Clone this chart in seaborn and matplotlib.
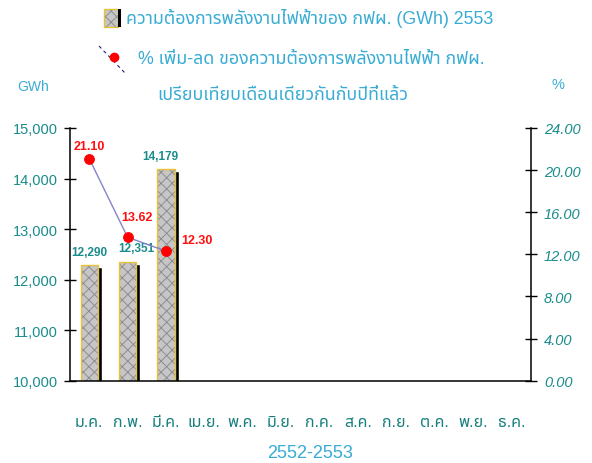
import matplotlib
matplotlib.use("Agg")
import numpy as np
import pandas as pd
import matplotlib.pyplot as plt
import seaborn as sns
from matplotlib.transforms import ScaledTranslation
from matplotlib.patches import Rectangle
from matplotlib.lines import Line2D
from matplotlib.ticker import FuncFormatter, FixedLocator

months = ["ม.ค.", "ก.พ.", "มี.ค.", "เม.ย.", "พ.ค.", "มิ.ย.", "ก.ค.", "ส.ค.", "ก.ย.", "ต.ค.", "พ.ย.", "ธ.ค."]
demand_gwh = [12290, 12351, 14179]
pct_change = [21.10, 13.62, 12.30]
title_bar = "ความต้องการพลังงานไฟฟ้าของ กฟผ. (GWh) 2553"
title_line1 = "% เพิ่ม-ลด ของความต้องการพลังงานไฟฟ้า กฟผ."
title_line2 = "เปรียบเทียบเดือนเดียวกันกับปีที่แล้ว"
xlabel = "2552-2553"

sns.set_theme(style="white")
plt.rcParams["font.family"] = ["Liberation Sans", "Noto Sans Thai"]
plt.rcParams["hatch.linewidth"] = 0.7

TEAL = "#1a8c8c"
BLUE = "#38acd4"
GOLD = "#e6c23c"
W, H = 592, 464

df = pd.DataFrame({"month": months[:len(demand_gwh)], "gwh": demand_gwh})
df_pct = pd.DataFrame({"pos": np.arange(len(pct_change)), "pct": pct_change})

fig = plt.figure(figsize=(W / 100, H / 100), dpi=100)
ax = fig.add_axes([70 / W, (H - 381.6) / H, 460.7 / W, 252.6 / H])

# shadow bars, shifted right/down a few pixels
sns.barplot(data=df, x="month", y="gwh", order=months, color="black",
            width=0.45, errorbar=None, ax=ax, saturation=1)
shift = ScaledTranslation(4 / 100, -2 / 100, fig.dpi_scale_trans)
for p in ax.patches:
    p.set_transform(ax.transData + shift)
# textured face
sns.barplot(data=df, x="month", y="gwh", order=months, color="#c6c6c6",
            width=0.45, errorbar=None, ax=ax, saturation=1,
            hatch="xxx", edgecolor="#8e8e8e", linewidth=0)
# gold outline
sns.barplot(data=df, x="month", y="gwh", order=months, color=GOLD, fill=False,
            width=0.45, errorbar=None, ax=ax, linewidth=1.0)

bar_offsets = [(0, 5), (6, 5.5), (-4, 5.5)]
for i, v in enumerate(demand_gwh):
    ax.annotate(f"{v:,}", (i, v), xytext=bar_offsets[i], textcoords="offset points",
                ha="center", va="bottom", color=TEAL, fontsize=8.5, fontweight="bold")

ax.set_xlim(-0.5, len(months) - 0.5)
ax.set_ylim(10000, 15000)
ax.set_yticks(np.arange(10000, 15001, 1000))
ax.yaxis.set_major_formatter(FuncFormatter(lambda v, p: f"{v:,.0f}"))
ax.xaxis.set_major_locator(FixedLocator(np.arange(-0.5, len(months), 1)))
ax.xaxis.set_minor_locator(FixedLocator(np.arange(len(months))))
ax.set_xticklabels([], minor=False)
ax.set_xticklabels(months, minor=True)
ax.tick_params(axis="x", which="major", direction="inout", length=9, width=1, color="black")
ax.tick_params(axis="x", which="minor", length=0, pad=24, labelsize=11.5, labelcolor="#17807f")
ax.tick_params(axis="y", direction="inout", length=9, width=1, color="black",
               labelsize=10.5, labelcolor=TEAL, pad=4, left=True)
ax.set_xlabel("")
ax.set_ylabel("")
for s in ["top", "right"]:
    ax.spines[s].set_visible(False)
for s in ["left", "bottom"]:
    ax.spines[s].set_color("black")
    ax.spines[s].set_linewidth(1.1)

ax2 = ax.twinx()
sns.lineplot(data=df_pct, x="pos", y="pct", ax=ax2, color="#8484cc", linewidth=1,
             marker="o", markersize=7, markerfacecolor="#ff0000", markeredgecolor="#ff0000")
pct_offsets = [(0, 5), (7, 10), (22, 4)]
for i, v in enumerate(pct_change):
    ax2.annotate(f"{v:.2f}", (i, v), xytext=pct_offsets[i], textcoords="offset points",
                 ha="center", va="bottom", color="#ff1010", fontsize=9, fontweight="bold")
ax2.set_ylim(0, 24)
ax2.set_yticks(np.arange(0, 24.1, 4))
ax2.yaxis.set_major_formatter(FuncFormatter(lambda v, p: f"{v:.2f}"))
ax2.tick_params(axis="y", direction="inout", length=9, width=1, color="black",
                labelsize=10.5, labelcolor=TEAL, pad=5, right=True)
for lab in ax2.get_yticklabels():
    lab.set_fontstyle("italic")
ax2.set_xlabel("")
ax2.set_ylabel("")
for s in ["top", "left", "bottom"]:
    ax2.spines[s].set_visible(False)
ax2.spines["right"].set_color("black")
ax2.spines["right"].set_linewidth(1.1)
ax2.set_xlim(-0.5, len(months) - 0.5)
ax2.grid(False)
ax.grid(False)

# axis titles
fig.text(33 / W, 1 - 87 / H, "GWh", color=BLUE, fontsize=10, ha="center", va="center")
fig.text(558 / W, 1 - 85 / H, "%", color=BLUE, fontsize=10.5, ha="center", va="center")
fig.text(310 / W, 1 - 454 / H, xlabel, color=BLUE, fontsize=13, ha="center", va="center")

# legend-like titles
fig.add_artist(Rectangle((104 / W, 1 - 28 / H), 14 / W, 18 / H, transform=fig.transFigure,
                         facecolor="#c6c6c6", hatch="xxx", edgecolor="#8e8e8e", linewidth=0))
fig.add_artist(Rectangle((104 / W, 1 - 28 / H), 14 / W, 18 / H, transform=fig.transFigure,
                         fill=False, edgecolor=GOLD, linewidth=1))
fig.add_artist(Rectangle((118 / W, 1 - 28 / H), 3 / W, 18 / H, transform=fig.transFigure,
                         facecolor="black", edgecolor="none"))
fig.text(126 / W, 1 - 18 / H, title_bar, color=BLUE, fontsize=12.8, ha="left", va="center")
fig.add_artist(Line2D([99 / W, 125 / W], [1 - 47 / H, 1 - 74 / H], transform=fig.transFigure,
                      color="#202080", linewidth=0.8, linestyle=(0, (3, 3))))
fig.add_artist(Line2D([114 / W], [1 - 58 / H], transform=fig.transFigure, marker="o",
                      markersize=6, color="#ff0000", linestyle="none"))
fig.text(138 / W, 1 - 59 / H, title_line1, color=BLUE, fontsize=12.8, ha="left", va="center")
fig.text(157 / W, 1 - 95 / H, title_line2, color=BLUE, fontsize=12.8, ha="left", va="center")

fig.savefig("out.png", dpi=100)
